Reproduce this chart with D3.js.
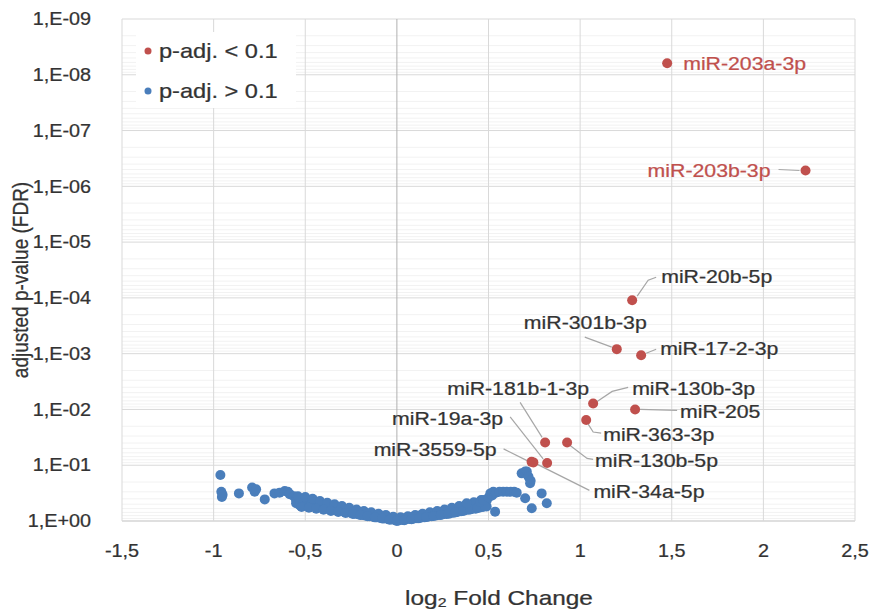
<!DOCTYPE html>
<html>
<head>
<meta charset="utf-8">
<script src="https://cdn.jsdelivr.net/npm/d3@7"></script>
<style>
  body { margin: 0; background: #fff; }
  text { font-family: Arial, "Liberation Sans", sans-serif; fill: #333; stroke: currentColor; stroke-width: 0.25px; }
</style>
</head>
<body>
<div id="chart"></div>
<script>
// significant miRNAs (p-adj < 0.1)
const sigNames = ["miR-203a-3p", "miR-203b-3p", "miR-20b-5p", "miR-301b-3p", "miR-17-2-3p",
  "miR-130b-3p", "miR-205", "miR-363-3p", "miR-181b-1-3p", "miR-130b-5p",
  "miR-3559-5p", "miR-34a-5p", "miR-19a-3p"];
const sigFC   = [1.475, 2.23, 1.284, 1.20, 1.333, 1.071, 1.30, 1.033, 0.809, 0.929, 0.735, 0.745, 0.82];
const sigPadj = [6.2e-9, 5.2e-7, 1.1e-4, 8.3e-4, 1.07e-3, 7.8e-3, 1.0e-2, 1.55e-2, 3.9e-2, 3.9e-2, 8.7e-2, 8.9e-2, 9.1e-2];
const redLabels = ["miR-203a-3p", "miR-203b-3p"];

// non significant miRNAs (p-adj > 0.1)
const nsFC = [
  -0.963, -0.958, -0.955, -0.951, -0.862, -0.790, -0.776, -0.768, -0.721, -0.668, -0.640, -0.612, -0.595, -0.585, -0.562,
  -0.55, -0.55, -0.53, -0.53, -0.51, -0.51, -0.49, -0.49, -0.47, -0.47, -0.45, -0.45, -0.43, -0.43, -0.41, -0.41,
  -0.39, -0.39, -0.37, -0.37, -0.35, -0.35, -0.33, -0.33, -0.31, -0.31, -0.29, -0.29, -0.27, -0.27, -0.25, -0.25,
  -0.23, -0.23, -0.21, -0.21, -0.19, -0.19, -0.17, -0.17, -0.15, -0.15, -0.13, -0.13, -0.11, -0.11, -0.09, -0.09,
  -0.07, -0.07, -0.05, -0.05, -0.03, -0.03, -0.01, -0.01, 0.01, 0.01, 0.03, 0.03, 0.05, 0.05, 0.07, 0.07,
  0.09, 0.09, 0.11, 0.11, 0.13, 0.13, 0.15, 0.15, 0.17, 0.17, 0.19, 0.19, 0.21, 0.21, 0.23, 0.23,
  0.25, 0.25, 0.27, 0.27, 0.29, 0.29, 0.31, 0.31, 0.33, 0.33, 0.35, 0.35, 0.37, 0.37, 0.39, 0.39,
  0.41, 0.41, 0.43, 0.43, 0.45, 0.45, 0.47, 0.47, 0.49, 0.49,
  -0.54, -0.50, -0.46, -0.42, -0.38, -0.34, -0.30, -0.26, -0.22, -0.18, -0.14, -0.10, -0.06, -0.02,
  0.02, 0.06, 0.10, 0.14, 0.18, 0.22, 0.26, 0.30, 0.34, 0.38, 0.42, 0.46,
  -0.52, -0.48, -0.44, -0.40, -0.36, -0.32, -0.28, -0.24, -0.20, -0.16, -0.12, -0.08, -0.04, 0.00,
  0.04, 0.08, 0.12, 0.16, 0.20, 0.24, 0.28, 0.32, 0.36, 0.40, 0.44, 0.48,
  0.381, 0.454, 0.47, 0.50, 0.51, 0.52, 0.526, 0.54, 0.56, 0.58, 0.60, 0.62, 0.64, 0.654, 0.536,
  0.681, 0.700, 0.709, 0.718, 0.727, 0.73, 0.70, 0.736, 0.79, 0.818
];
const nsPadj = [
  0.15, 0.30, 0.37, 0.34, 0.32, 0.25, 0.30, 0.27, 0.41, 0.32, 0.31, 0.29, 0.30, 0.33, 0.36,
  0.42, 0.48, 0.44, 0.52, 0.46, 0.40, 0.48, 0.42, 0.50, 0.44, 0.52, 0.46, 0.55, 0.48, 0.56, 0.50,
  0.58, 0.52, 0.60, 0.54, 0.62, 0.55, 0.64, 0.57, 0.66, 0.59, 0.68, 0.61, 0.70, 0.63, 0.72, 0.65,
  0.74, 0.67, 0.76, 0.69, 0.78, 0.71, 0.80, 0.73, 0.82, 0.75, 0.84, 0.77, 0.86, 0.79, 0.88, 0.81,
  0.90, 0.84, 0.92, 0.86, 0.94, 0.89, 0.97, 0.91, 0.98, 0.92, 0.96, 0.90, 0.94, 0.88, 0.92, 0.86,
  0.91, 0.84, 0.89, 0.82, 0.87, 0.80, 0.86, 0.78, 0.84, 0.76, 0.82, 0.74, 0.80, 0.72, 0.78, 0.70,
  0.76, 0.68, 0.75, 0.66, 0.73, 0.64, 0.71, 0.62, 0.69, 0.60, 0.67, 0.58, 0.65, 0.56, 0.63, 0.54,
  0.61, 0.52, 0.60, 0.50, 0.58, 0.47, 0.56, 0.45, 0.55, 0.43,
  0.36, 0.37, 0.40, 0.44, 0.47, 0.50, 0.54, 0.58, 0.62, 0.66, 0.70, 0.74, 0.78, 0.84,
  0.86, 0.82, 0.78, 0.74, 0.70, 0.66, 0.62, 0.58, 0.54, 0.50, 0.46, 0.42,
  0.56, 0.58, 0.60, 0.63, 0.66, 0.69, 0.72, 0.75, 0.78, 0.82, 0.86, 0.90, 0.95, 1.00,
  0.97, 0.93, 0.89, 0.85, 0.81, 0.78, 0.74, 0.70, 0.66, 0.62, 0.58, 0.54,
  0.48, 0.45, 0.42, 0.38, 0.32, 0.35, 0.30, 0.31, 0.30, 0.30, 0.30, 0.30, 0.30, 0.31, 0.68,
  0.14, 0.13, 0.13, 0.16, 0.21, 0.19, 0.39, 0.59, 0.32, 0.48
];

const xTicks = [-1.5, -1, -0.5, 0, 0.5, 1, 1.5, 2, 2.5];
const yTicks = [1, 1e-1, 1e-2, 1e-3, 1e-4, 1e-5, 1e-6, 1e-7, 1e-8, 1e-9];
const legendItems = ["p-adj. < 0.1", "p-adj. > 0.1"];

// label placement (pixel offsets from the point)
const labelPos = {
  "miR-203a-3p":   { dx: 16, dy: 0, anchor: "start", lead: null },
  "miR-203b-3p":   { dx: -35, dy: 0, anchor: "end", lead: [[-6, 0], [-27, -1]] },
  "miR-20b-5p":    { dx: 29, dy: -24, anchor: "start", lead: [[5, -4], [16, -20], [24, -23]] },
  "miR-301b-3p":   { dx: 30, dy: -27, anchor: "end", lead: [[-5, -2], [-32, -12]] },
  "miR-17-2-3p":   { dx: 19, dy: -7, anchor: "start", lead: [[5, -2], [15, -6]] },
  "miR-181b-1-3p": { dx: -27, dy: -54, anchor: "middle", lead: [[-3, -5], [-25, -40]] },
  "miR-130b-3p":   { dx: 39, dy: -15, anchor: "start", lead: [[4, -2], [19, -12], [35, -16]] },
  "miR-205":       { dx: 45, dy: 2, anchor: "start", lead: [[5, 0], [42, 1]] },
  "miR-19a-3p":    { dx: -44, dy: -45, anchor: "end", lead: [[-4, -4], [-37, -46]] },
  "miR-363-3p":    { dx: 17, dy: 14, anchor: "start", lead: [[2, 4], [7, 12], [15, 13]] },
  "miR-3559-5p":   { dx: -35, dy: -12, anchor: "end", lead: [[-4, -1], [-28, -13]] },
  "miR-130b-5p":   { dx: 28, dy: 18, anchor: "start", lead: [[3, 3], [20, 16], [26, 17]] },
  "miR-34a-5p":    { dx: 60, dy: 29, anchor: "start", lead: [[4, 2], [56, 28]] }
};

const red = "#c0504d", blue = "#4a7ebb";
const stretch = 1.12;

const margin = { top: 19, right: 15, bottom: 89, left: 122 },
      width = 870 - margin.left - margin.right,
      height = 610 - margin.top - margin.bottom;

const svg = d3.select("#chart")
  .append("svg")
    .attr("width", 870)
    .attr("height", 610);

const g = svg.append("g")
    .attr("transform", `translate(${margin.left},${margin.top})`);

const x = d3.scaleLinear().domain([-1.5, 2.5]).range([0, width]);
const y = d3.scaleLog().domain([1, 1e-9]).range([height, 0]);

// horizontally stretched text, like the original
function label(sel, px, py, txt, opts = {}) {
  const sx = opts.sx || stretch;
  const c = opts.color || "#333";
  return sel.append("text")
    .attr("transform", `translate(${px},${py}) scale(${sx},1)`)
    .attr("text-anchor", opts.anchor || "start")
    .attr("dominant-baseline", "central")
    .style("font-size", (opts.size || 19) + "px")
    .style("fill", c)
    .style("color", c)
    .text(txt);
}

// minor gridlines
const minor = [];
for (let e = -9; e < 0; e++) for (let m = 2; m <= 9; m++) minor.push(m * Math.pow(10, e));
g.selectAll(".minor")
  .data(minor)
  .join("line")
    .attr("x1", 0).attr("x2", width)
    .attr("y1", d => y(d)).attr("y2", d => y(d))
    .attr("stroke", "#f2f2f2");

// major gridlines
g.selectAll(".hgrid")
  .data(yTicks)
  .join("line")
    .attr("x1", 0).attr("x2", width)
    .attr("y1", d => y(d)).attr("y2", d => y(d))
    .attr("stroke", d => d === 1 ? "#bfbfbf" : "#d9d9d9");

g.selectAll(".vgrid")
  .data(xTicks)
  .join("line")
    .attr("x1", d => x(d)).attr("x2", d => x(d))
    .attr("y1", 0).attr("y2", height)
    .attr("stroke", d => d === 0 ? "#b0b0b0" : "#d9d9d9");

// tick labels
const yFmt = d => {
  const e = Math.round(Math.log10(d));
  return "1,E" + (e < 0 ? "-" : "+") + String(Math.abs(e)).padStart(2, "0");
};
yTicks.forEach(t => label(svg, 91, margin.top + y(t), yFmt(t), { anchor: "end", size: 18, sx: 1.1 }));
xTicks.forEach(t => label(svg, margin.left + x(t), 551, String(t).replace(".", ","), { anchor: "middle", size: 18, sx: 1.1 }));

// axis titles
const xt = svg.append("text")
  .attr("transform", `translate(499,598) scale(1.22,1)`)
  .attr("text-anchor", "middle")
  .attr("dominant-baseline", "central")
  .style("color", "#333")
  .style("font-size", "20px");
xt.append("tspan").text("log");
xt.append("tspan").text("2").attr("dy", 5).style("font-size", "13px");
xt.append("tspan").text(" Fold Change").attr("dy", -5);

svg.append("text")
  .attr("transform", `translate(20,280) rotate(-90) scale(1,1.15)`)
  .attr("text-anchor", "middle")
  .attr("dominant-baseline", "central")
  .style("color", "#333")
  .style("font-size", "19px")
  .text("adjusted p-value (FDR)");

// blue points
const ns = nsFC.map((d, i) => ({ fc: d, p: nsPadj[i] }));
g.selectAll(".ns")
  .data(ns)
  .join("circle")
    .attr("cx", d => x(d.fc))
    .attr("cy", d => y(d.p))
    .attr("r", 5)
    .attr("fill", blue);

// leader lines and labels for significant points
const sig = sigNames.map((n, i) => ({ name: n, fc: sigFC[i], p: sigPadj[i] }));
sig.forEach(d => {
  const pos = labelPos[d.name];
  const px = x(d.fc), py = y(d.p);
  if (pos.lead) {
    g.append("path")
      .attr("d", d3.line()(pos.lead.map(q => [px + q[0], py + q[1]])))
      .attr("fill", "none")
      .attr("stroke", "#a6a6a6")
      .attr("stroke-width", 1.2);
  }
  label(g, px + pos.dx, py + pos.dy, d.name, {
    anchor: pos.anchor, size: 19,
    color: redLabels.includes(d.name) ? red : "#333"
  });
});

g.selectAll(".sig")
  .data(sig)
  .join("circle")
    .attr("cx", d => x(d.fc))
    .attr("cy", d => y(d.p))
    .attr("r", 5)
    .attr("fill", red);

// legend
svg.append("rect")
  .attr("x", 136).attr("y", 32).attr("width", 160).attr("height", 76)
  .attr("fill", "#fff");
legendItems.forEach((t, i) => {
  svg.append("circle")
    .attr("cx", 148).attr("cy", 51 + i * 40).attr("r", 3.5)
    .attr("fill", i === 0 ? red : blue);
  label(svg, 159, 51 + i * 40, t, { size: 20, sx: 1.18 });
});
</script>
</body>
</html>
